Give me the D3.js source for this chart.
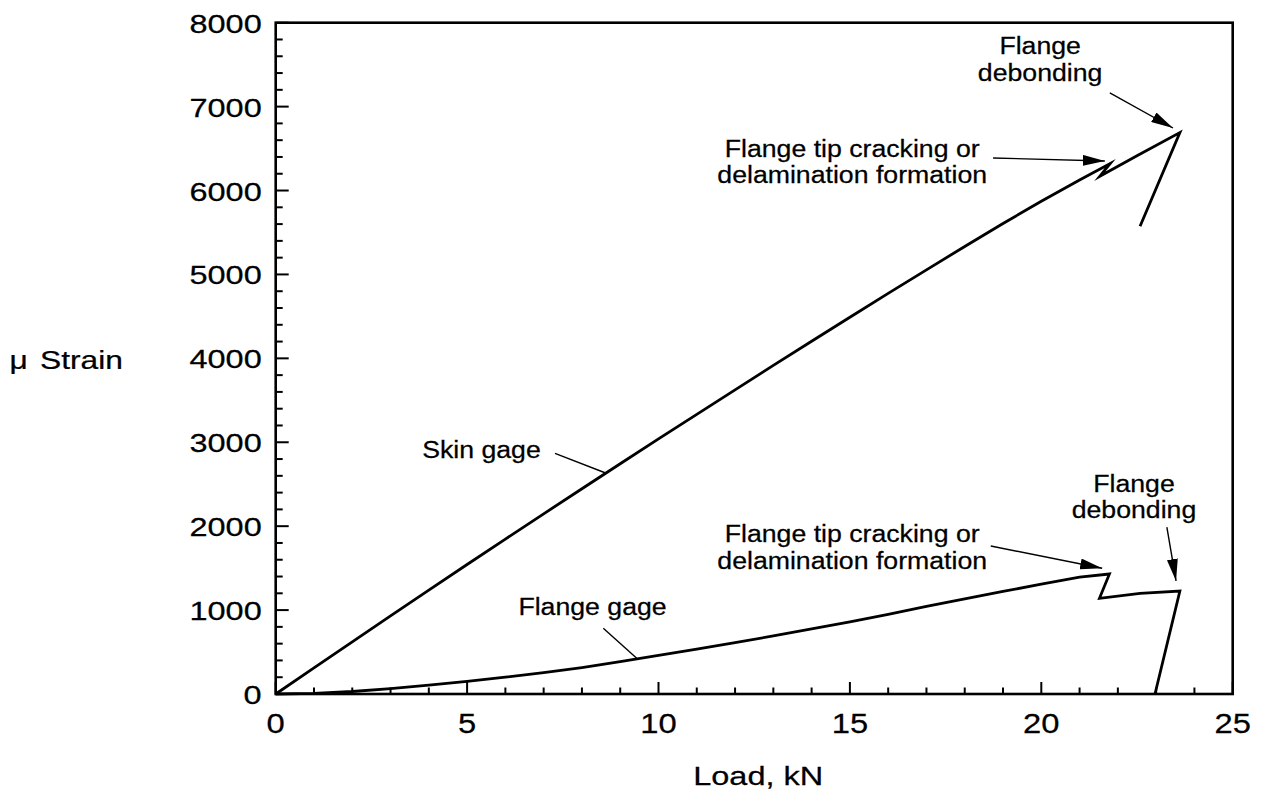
<!DOCTYPE html>
<html>
<head>
<meta charset="utf-8">
<script src="https://cdn.jsdelivr.net/npm/d3@7"></script>
<style>
  html, body { margin: 0; padding: 0; background: #fff; }
  svg { display: block; }
  text { font-family: "Liberation Sans", Arial, Helvetica, sans-serif; fill: #000; stroke: #000; stroke-width: 0.25px; }
</style>
</head>
<body>
<svg id="chart" width="1262" height="793"></svg>
<script>
// ---------------- data ----------------
const skinLoad   = [0, 1, 2, 3, 4, 5, 6, 7, 8, 9, 10, 11, 12, 13, 14, 15, 16, 17, 18, 19, 20, 21, 21.8, 21.53, 22.5, 23.62, 22.58];
const skinStrain = [0, 312, 622, 931, 1238, 1543, 1846, 2147, 2446, 2744, 3040, 3333, 3625, 3916, 4204, 4490, 4774, 5055, 5333, 5607, 5872, 6125, 6322, 6171, 6415, 6690, 5575];

const flangeLoad   = [0, 1, 2, 3, 4, 5, 6, 7, 8, 9, 10, 11, 12, 13, 14, 15, 16, 17, 18, 19, 20, 21, 21.78, 21.52, 22.58, 23.62, 22.97];
const flangeStrain = [0, 8, 30, 65, 105, 150, 200, 255, 315, 385, 460, 535, 612, 692, 775, 860, 950, 1045, 1135, 1222, 1310, 1392, 1430, 1140, 1200, 1227, 0];

const xTicks = [0, 5, 10, 15, 20, 25];
const yTicks = [0, 1000, 2000, 3000, 4000, 5000, 6000, 7000, 8000];
const xTitle = "Load, kN";
const yTitleParts = ["μ", "Strain"];

// annotations (data coordinates: load, strain)
const noteTexts = [
  { lines: ["Flange", "debonding"], x: 19.97, y: [7627, 7305] },
  { lines: ["Flange tip cracking or", "delamination formation"], x: 15.06, y: [6405, 6084] },
  { lines: ["Skin gage"], x: 5.376, y: [2812] },
  { lines: ["Flange gage"], x: 8.276, y: [941] },
  { lines: ["Flange tip cracking or", "delamination formation"], x: 15.06, y: [1811, 1490] },
  { lines: ["Flange", "debonding"], x: 22.42, y: [2413, 2097] }
];
const noteArrows = [
  { from: [21.79, 7165], to: [23.44, 6745], head: true },
  { from: [18.74, 6388], to: [21.66, 6352], head: true },
  { from: [7.296, 2868], to: [8.602, 2637], head: false },
  { from: [8.558, 783], to: [9.431, 425], head: false },
  { from: [18.68, 1764], to: [21.59, 1498], head: true },
  { from: [23.28, 1990], to: [23.52, 1347], head: true }
];

(function () {
// ---------------- layout ----------------
const svg = d3.select("#chart");
const pL = 275.7, pR = 1232.7, pT = 22.7, pB = 694;
const x = d3.scaleLinear().domain([0, 25]).range([pL, pR]);
const y = d3.scaleLinear().domain([0, 8000]).range([pB, pT]);

const defs = svg.append("defs");
defs.append("marker")
  .attr("id", "ah").attr("viewBox", "0 0 22 11")
  .attr("refX", 22).attr("refY", 5.5)
  .attr("markerWidth", 22).attr("markerHeight", 11)
  .attr("markerUnits", "userSpaceOnUse")
  .attr("orient", "auto")
  .append("path").attr("d", "M0,0 L22,5.5 L0,11 Z").attr("fill", "#000");

function stretchedText(g, px, py, str, size, anchor, sx) {
  g.append("g")
    .attr("transform", `translate(${px},${py}) scale(${sx},1)`)
    .append("text")
    .attr("text-anchor", anchor)
    .style("font-size", size + "px")
    .text(str);
}

// ticks (inward)
const gx = svg.append("g").attr("transform", `translate(0,${pB})`);
const xMinor = d3.range(0, 26, 1);
gx.selectAll("line").data(xMinor).enter().append("line")
  .attr("x1", d => x(d)).attr("x2", d => x(d))
  .attr("y1", 0).attr("y2", d => (xTicks.includes(d) ? -12 : -6.5))
  .attr("stroke", "#000").attr("stroke-width", 2);
const gy = svg.append("g").attr("transform", `translate(${pL},0)`);
const yMinor = d3.range(0, 8001, 200);
gy.selectAll("line").data(yMinor).enter().append("line")
  .attr("y1", d => y(d)).attr("y2", d => y(d))
  .attr("x1", 0).attr("x2", d => (yTicks.includes(d) ? 13 : 7))
  .attr("stroke", "#000").attr("stroke-width", 2);

// frame
svg.append("rect")
  .attr("x", pL).attr("y", pT)
  .attr("width", pR - pL).attr("height", pB - pT)
  .attr("fill", "none").attr("stroke", "#000").attr("stroke-width", 2.6);

// tick labels
const tl = svg.append("g");
xTicks.forEach(t => stretchedText(tl, x(t), pB + 39, String(t), 28, "middle", 1.17));
yTicks.forEach(t => stretchedText(tl, pL - 14, y(t) + 10, String(t), 26, "end", 1.25));

// axis titles
stretchedText(svg, (pL + pR) / 2 + 4, 785, xTitle, 26, "middle", 1.25);
stretchedText(svg, 9.5, 369, yTitleParts[0], 26, "start", 1.22);
stretchedText(svg, 40, 369, yTitleParts[1], 26, "start", 1.22);

// data lines
const line = d3.line().x(d => x(d[0])).y(d => y(d[1]));
const skin = d3.zip(skinLoad, skinStrain);
const flange = d3.zip(flangeLoad, flangeStrain);
[skin, flange].forEach(series => {
  svg.append("path").datum(series)
    .attr("d", line)
    .attr("fill", "none").attr("stroke", "#000")
    .attr("stroke-width", 2.8).attr("stroke-linejoin", "miter").attr("stroke-miterlimit", 10);
});

// annotations
const an = svg.append("g");
noteTexts.forEach(n => {
  n.lines.forEach((s, i) => stretchedText(an, x(n.x), y(n.y[i]), s, 23, "middle", 1.16));
});
noteArrows.forEach(a => {
  an.append("line")
    .attr("x1", x(a.from[0])).attr("y1", y(a.from[1]))
    .attr("x2", x(a.to[0])).attr("y2", y(a.to[1]))
    .attr("stroke", "#000").attr("stroke-width", 1.4)
    .attr("marker-end", a.head ? "url(#ah)" : null);
});
})();
</script>
</body>
</html>
